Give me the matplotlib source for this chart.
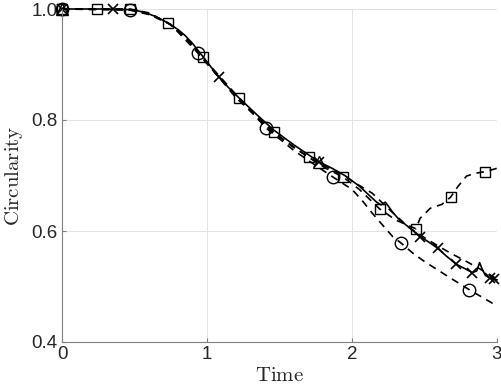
import numpy as np
import matplotlib
matplotlib.use("Agg")
import matplotlib.pyplot as plt

# solid line (x markers)
t_solid = [0, 0.3, 0.45, 0.5, 0.55, 0.6, 0.65, 0.73, 0.8, 0.85, 0.9, 0.97, 1.02, 1.08, 1.15,
           1.22, 1.35, 1.46, 1.6, 1.77, 1.87, 1.95, 2.05, 2.12, 2.17, 2.2, 2.23, 2.25,
           2.28, 2.32, 2.4, 2.47, 2.53, 2.59, 2.65, 2.72, 2.78, 2.83, 2.86, 2.88, 2.9,
           2.92, 2.95, 3.0]
c_solid = [1.0, 1.0, 0.999, 0.998, 0.995, 0.991, 0.986, 0.975, 0.963, 0.952, 0.938, 0.915,
           0.898, 0.878, 0.858, 0.84, 0.808, 0.782, 0.755, 0.725, 0.712, 0.70, 0.681, 0.664,
           0.652, 0.647, 0.652, 0.645, 0.634, 0.622, 0.605, 0.59, 0.58, 0.569, 0.555, 0.54,
           0.532, 0.525, 0.528, 0.543, 0.53, 0.52, 0.515, 0.512]
t_x = [0, 0.35, 1.08, 1.77, 2.47, 2.59, 2.72, 2.83, 2.95, 2.98]
c_x = [1.0, 1.0, 0.877, 0.725, 0.589, 0.569, 0.540, 0.525, 0.516, 0.513]

# dashed, circles
t_circ = [0, 0.47, 0.6, 0.75, 0.85, 0.94, 1.02, 1.1, 1.25, 1.41, 1.6, 1.75, 1.87, 2.0,
          2.07, 2.14, 2.22, 2.28, 2.34, 2.42, 2.5, 2.65, 2.81, 3.0]
c_circ = [1.0, 0.998, 0.99, 0.972, 0.95, 0.92, 0.895, 0.873, 0.83, 0.785, 0.745, 0.718,
          0.697, 0.675, 0.655, 0.632, 0.608, 0.59, 0.578, 0.56, 0.545, 0.52, 0.494, 0.465]
t_circ_m = [0, 0.47, 0.94, 1.41, 1.87, 2.34, 2.81]
c_circ_m = [1.0, 0.998, 0.92, 0.785, 0.697, 0.578, 0.494]

# dashed, squares
t_sq = [0, 0.24, 0.47, 0.6, 0.73, 0.85, 0.97, 1.1, 1.22, 1.35, 1.46, 1.58, 1.70, 1.82,
        1.94, 2.05, 2.19, 2.3, 2.44, 2.47, 2.54, 2.62, 2.68, 2.73, 2.79, 2.85, 2.92, 3.0]
c_sq = [1.0, 1.0, 1.0, 0.993, 0.975, 0.95, 0.913, 0.875, 0.84, 0.805, 0.778, 0.755, 0.733,
        0.713, 0.697, 0.675, 0.64, 0.62, 0.604, 0.623, 0.641, 0.648, 0.661, 0.68, 0.699,
        0.704, 0.707, 0.713]
t_sq_m = [0, 0.24, 0.47, 0.73, 0.97, 1.22, 1.46, 1.70, 1.94, 2.19, 2.44, 2.68, 2.92]
c_sq_m = [1.0, 1.0, 1.0, 0.975, 0.913, 0.84, 0.778, 0.733, 0.697, 0.64, 0.604, 0.661, 0.706]

# dashed, triangles
t_tri = [0, 0.45, 0.6, 0.75, 0.97, 1.2, 1.46, 1.6, 1.77, 1.95, 2.0, 2.14, 2.26, 2.39, 2.5,
         2.6, 2.68, 2.79, 2.88, 2.97, 3.0]
c_tri = [1.0, 0.999, 0.992, 0.972, 0.912, 0.84, 0.777, 0.75, 0.722, 0.70, 0.69, 0.668,
         0.638, 0.607, 0.588, 0.572, 0.56, 0.545, 0.532, 0.518, 0.514]
t_tri_m = [0, 1.77]
c_tri_m = [1.0, 0.724]

xticks = [0, 1, 2, 3]
yticks = [0.4, 0.6, 0.8, 1.0]

plt.rcParams['font.family'] = 'Liberation Sans'
plt.rcParams['mathtext.fontset'] = 'cm'
k = '#262626'

fig = plt.figure(figsize=(5.01, 3.91), dpi=100)
ax = fig.add_axes([62/501, 49/391, 435/501, 333/391])

lw = 1.2
dash = (0, (4.5, 3.5))
ax.plot(t_circ, c_circ, color='k', lw=lw, linestyle=dash, clip_on=False)
ax.plot(t_sq, c_sq, color='k', lw=lw, linestyle=dash, clip_on=False)
ax.plot(t_tri, c_tri, color='k', lw=lw, linestyle=dash, clip_on=False)
ax.plot(t_solid, c_solid, color='k', lw=lw, linestyle='-', clip_on=False)

ax.plot(t_circ_m, c_circ_m, 'o', mfc='none', mec='k', ms=9, mew=1.0, clip_on=False)
ax.plot(t_sq_m, c_sq_m, 's', mfc='none', mec='k', ms=7, mew=1.0, clip_on=False)
ax.plot(t_tri_m, c_tri_m, '^', mfc='none', mec='k', ms=9, mew=1.0, clip_on=False)
ax.plot(t_x, c_x, 'x', mec='k', ms=7, mew=1.2, clip_on=False)

ax.set_xlim(0, 3)
ax.set_ylim(0.4, 1.0)
ax.set_xticks(xticks)
ax.set_yticks(yticks)
ax.set_yticklabels(['%.1f' % v for v in yticks])
ax.grid(True, color='#e3e3e3', lw=0.7)
ax.set_axisbelow(True)
for s in ['top', 'right']:
    ax.spines[s].set_visible(False)
for s in ['left', 'bottom']:
    ax.spines[s].set_color('#7f7f7f')
    ax.spines[s].set_linewidth(0.8)
ax.tick_params(direction='in', length=3, width=0.8, colors='#7f7f7f',
               labelcolor=k, labelsize=13.5, pad=3)

ax.set_xlabel(r'$\mathrm{Time}$', fontsize=15, color=k, labelpad=2)
ax.set_ylabel(r'$\mathrm{Circularity}$', fontsize=15, color=k, labelpad=5)

fig.savefig('out.png', dpi=100)
